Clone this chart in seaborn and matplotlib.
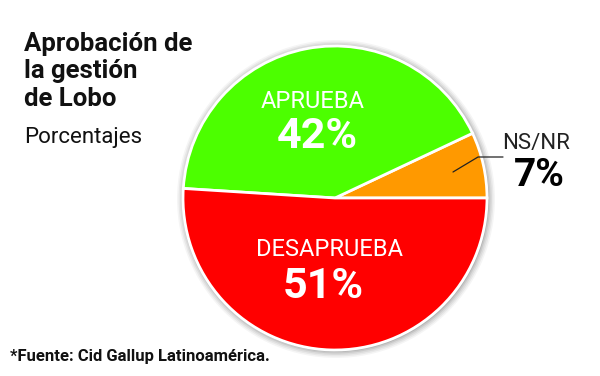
import matplotlib
matplotlib.use("Agg")
import matplotlib.pyplot as plt
import seaborn as sns
from matplotlib.patches import Circle

# Data
labels = ["NS/NR", "APRUEBA", "DESAPRUEBA"]
values = [7, 42, 51]
colors = ["#FF9900", "#4CFF00", "#FF0000"]

sns.set_theme(style="white")
plt.rcParams["font.family"] = ["Roboto", "DejaVu Sans"]
plt.rcParams["text.color"] = "#111111"

fig = plt.figure(figsize=(6, 3.76), dpi=100)
ax = fig.add_axes([0, 0, 1, 1])

cx, cy, r = 335, 178, 152

# soft shadow around the pie
for i, a in enumerate([0.04, 0.05, 0.06, 0.08, 0.10]):
    ax.add_patch(Circle((cx + 1, cy - 1), r + 7 - 1.5 * i, color="black", alpha=a, lw=0, zorder=0))

ax.pie(values, colors=colors, startangle=0, counterclock=True, center=(cx, cy), radius=r,
       wedgeprops=dict(edgecolor="white", linewidth=2), frame=True)
ax.set_xlim(0, 600)
ax.set_ylim(0, 376)
ax.set_aspect("equal")
ax.axis("off")

# Title
ax.text(24, 376 - 32, "Aprobación de\nla gestión\nde Lobo", fontsize=18.5, fontweight="bold",
        va="top", ha="left", linespacing=1.18)
ax.text(24, 376 - 138, "Porcentajes", fontsize=16, va="center", ha="left")

# Slice labels
ax.text(313, 376 - 101, labels[1], fontsize=17, color="white", ha="center", va="center")
ax.text(317, 376 - 136, f"{values[1]}%", fontsize=31, color="white", fontweight="bold",
        ha="center", va="center")
ax.text(329, 376 - 249, labels[2], fontsize=17, color="white", ha="center", va="center")
ax.text(323, 376 - 286, f"{values[2]}%", fontsize=31, color="white", fontweight="bold",
        ha="center", va="center")
ax.text(536, 376 - 144, labels[0], fontsize=16, color="#222222", ha="center", va="center")
ax.text(539, 376 - 176, f"{values[0]}%", fontsize=28, color="black", fontweight="bold",
        ha="center", va="center")
ax.plot([453, 478, 503], [376 - 172, 376 - 157, 376 - 157], color="#222222", lw=0.9)

# Footer
ax.text(10, 376 - 356, "*Fuente: Cid Gallup Latinoamérica.", fontsize=12, fontweight="bold",
        ha="left", va="center")

fig.savefig("out.png", dpi=100, facecolor="white")
